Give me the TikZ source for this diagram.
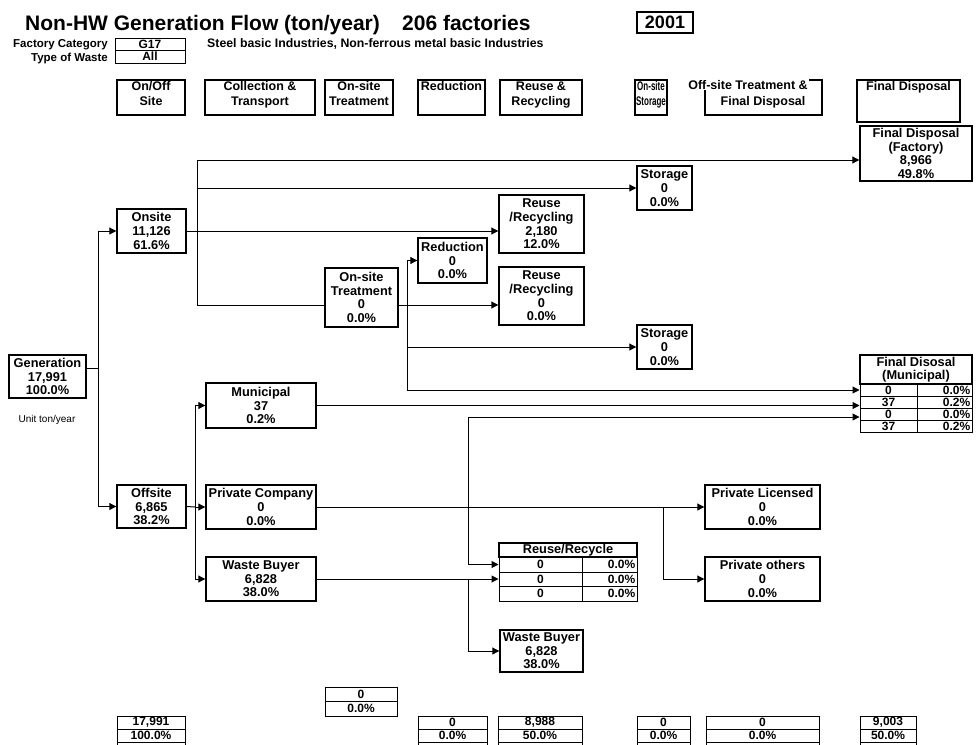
\documentclass[tikz,border=0pt]{standalone}
\usepackage{fontspec}
\setmainfont{Liberation Sans}
\usetikzlibrary{arrows.meta}
\newcommand\fs{\fontsize{12.8}{13.6}\selectfont\bfseries}
\newcommand\fsc{\fontsize{12}{12}\selectfont\bfseries}
\newcommand\bxn[6]{\node[box, minimum width={(#4-#2)*1pt}, minimum height={(#5-#3)*1pt}] (#1) at ({(#2+#4)/2},{(#3+#5)/2}) {#6};}
\newcommand\cel[6]{\node[cellbox, minimum width={(#4-#2)*1pt}, minimum height={(#5-#3)*1pt}] (#1) at ({(#2+#4)/2},{(#3+#5)/2}) {#6};}
\newcommand\trow[8]{\cel{#1l}{#2}{#5}{#3}{#6}{#7}\cel{#1r}{#3}{#5}{#4}{#6}{}\node[celltxt, anchor=east] (#1p) at ([xshift=-2pt]#1r.east) {#8};}
\newcommand\hdr[6]{\bxn{#1}{#2}{#3}{#4}{#5}{}\node[htxt, anchor=north] (#1t) at ([yshift=-2pt]#1.north) {#6};}
\begin{document}
\begin{tikzpicture}[x=1pt,y=-1pt,
  box/.style={draw, line width=1.4pt, inner sep=0pt, align=center, font=\fs},
  cellbox/.style={draw, line width=1pt, inner sep=0pt, align=center, font=\fsc},
  celltxt/.style={inner sep=0pt, font=\fsc},
  htxt/.style={inner sep=0pt, align=center, font=\fontsize{12.5}{15}\selectfont\bfseries},
  ln/.style={line width=1pt},
  arr/.style={line width=1pt, -{Triangle[length=7pt,width=7pt]}}]
\useasboundingbox (0,0) rectangle (976,744);
\clip (0,0) rectangle (976,744);
% title area
\node[anchor=base west, inner sep=0pt, font=\fontsize{21}{24}\selectfont\bfseries] (title) at (25,30) {Non-HW Generation Flow (ton/year)};
\node[anchor=base west, inner sep=0pt, font=\fontsize{21}{24}\selectfont\bfseries] (nfac) at (402,30) {206 factories};
\node[box, font=\fontsize{18}{20}\selectfont\bfseries, minimum width=56pt, minimum height=21pt] (year) at (665,22.5) {2001};
\node[anchor=base east, inner sep=0pt, font=\fontsize{11.5}{12}\selectfont\bfseries] (fclab) at (108,47) {Factory Category};
\node[anchor=base east, inner sep=0pt, font=\fontsize{11.5}{12}\selectfont\bfseries] (twlab) at (108,61) {Type of Waste};
\cel{g17}{115}{38}{185}{50}{G17}
\cel{all}{115}{50}{185}{63}{All}
\node[anchor=base west, inner sep=0pt, font=\fontsize{12.3}{13}\selectfont\bfseries] (steel) at (207,47) {Steel basic Industries, Non-ferrous metal basic Industries};
% column headers
\hdr{h1}{117}{80}{185}{115}{On/Off\\Site}
\hdr{h2}{205}{80}{315}{115}{Collection \&\\Transport}
\hdr{h3}{325}{80}{393}{115}{On-site\\Treatment}
\hdr{h4}{418}{80}{485}{115}{Reduction}
\hdr{h5}{500}{80}{582}{115}{Reuse \&\\Recycling}
\hdr{h6}{635}{80}{667}{115}{\scalebox{0.64}[1]{On-site}\\\scalebox{0.64}[1]{Storage}}
\bxn{h7}{705}{80}{822}{115}{}
\node[inner sep=1pt, fill=white, font=\fontsize{12.5}{15}\selectfont\bfseries, anchor=north] (h7a) at (748,79) {Off-site Treatment \&};
\node[inner sep=0pt, font=\fontsize{12.5}{15}\selectfont\bfseries, anchor=north] (h7b) at (763,96) {Final Disposal};
\hdr{h8}{857}{80}{960}{122}{Final Disposal}
% flow boxes
\bxn{gen}{9}{355}{86}{398}{Generation\\17,991\\100.0\%}
\node[inner sep=0pt, font=\fontsize{10}{11}\selectfont] (unit) at (47,420) {Unit ton/year};
\bxn{onsite}{117}{209}{186}{253}{Onsite\\11,126\\61.6\%}
\bxn{offsite}{117}{485}{186}{528}{Offsite\\6,865\\38.2\%}
\bxn{fdfac}{860}{126}{972}{181}{Final Disposal\\(Factory)\\8,966\\49.8\%}
\bxn{stor1}{637}{166}{692}{210}{Storage\\0\\0.0\%}
\bxn{reuse1}{499}{195}{584}{253}{Reuse\\/Recycling\\2,180\\12.0\%}
\bxn{ost}{325}{268}{398}{327}{On-site\\Treatment\\0\\0.0\%}
\bxn{red}{418}{238}{487}{283}{Reduction\\0\\0.0\%}
\bxn{reuse2}{499}{267}{584}{325}{Reuse\\/Recycling\\0\\0.0\%}
\bxn{stor2}{637}{325}{692}{369}{Storage\\0\\0.0\%}
\bxn{muni}{206}{383}{316}{428}{Municipal\\37\\0.2\%}
\bxn{privco}{206}{485}{316}{529}{Private Company\\0\\0.0\%}
\bxn{wbuy}{206}{557}{316}{601}{Waste Buyer\\6,828\\38.0\%}
\bxn{privlic}{705}{485}{820}{529}{Private Licensed\\0\\0.0\%}
\bxn{privoth}{705}{557}{820}{601}{Private others\\0\\0.0\%}
\bxn{wbuy2}{500}{630}{583}{672}{Waste Buyer\\6,828\\38.0\%}
% municipal table
\bxn{mh}{860}{355}{972}{384}{Final Disosal\\(Municipal)}
\trow{m1}{860}{917}{972}{384}{396}{0}{0.0\%}
\trow{m2}{860}{917}{972}{396}{408}{37}{0.2\%}
\trow{m3}{860}{917}{972}{408}{420}{0}{0.0\%}
\trow{m4}{860}{917}{972}{420}{432}{37}{0.2\%}
% reuse/recycle table
\bxn{rh}{499}{543}{637}{557}{Reuse/Recycle}
\trow{r1}{499}{582}{637}{557}{572}{0}{0.0\%}
\trow{r2}{499}{582}{637}{572}{586}{0}{0.0\%}
\trow{r3}{499}{582}{637}{586}{601}{0}{0.0\%}
% bottom totals
\cel{b1a}{325}{687}{397}{701}{0}
\cel{b1b}{325}{701}{397}{716}{0.0\%}
\cel{b2a}{117}{716}{185}{729}{17,991}
\cel{b2b}{117}{729}{185}{742}{100.0\%}
\cel{b2c}{117}{742}{185}{760}{}
\cel{b3a}{418}{716}{487}{729}{0}
\cel{b3b}{418}{729}{487}{742}{0.0\%}
\cel{b3c}{418}{742}{487}{760}{}
\cel{b4a}{498}{716}{582}{729}{8,988}
\cel{b4b}{498}{729}{582}{742}{50.0\%}
\cel{b4c}{498}{742}{582}{760}{}
\cel{b5a}{637}{716}{690}{729}{0}
\cel{b5b}{637}{729}{690}{742}{0.0\%}
\cel{b5c}{637}{742}{690}{760}{}
\cel{b6a}{706}{716}{819}{729}{0}
\cel{b6b}{706}{729}{819}{742}{0.0\%}
\cel{b6c}{706}{742}{819}{760}{}
\cel{b7a}{860}{716}{916}{729}{9,003}
\cel{b7b}{860}{729}{916}{742}{50.0\%}
\cel{b7c}{860}{742}{916}{760}{}
% connectors
\coordinate (jg) at (98,368);
\draw[ln] (gen.east |- jg) -- (jg);
\draw[arr] (jg) |- (onsite.west);
\draw[arr] (jg) |- (offsite.west);
\coordinate (jo) at (197,231);
\draw[ln] (onsite.east) -- (jo);
\draw[arr] (jo) |- (fdfac.west |- 0,160);
\draw[arr] (jo) |- (stor1.west);
\draw[arr] (jo) -- (reuse1.west |- jo);
\draw[ln] (jo) |- (ost.west |- 0,305);
\coordinate (jt) at (407,305);
\draw[ln] (ost.east |- jt) -- (jt);
\draw[arr] (jt) -- (reuse2.west |- jt);
\draw[arr] (jt) |- (red.west);
\draw[arr] (jt) |- (stor2.west);
\draw[arr] (jt) |- (m1l.west);
\coordinate (jf) at (195,507);
\draw[ln] (offsite.east) -- (jf);
\draw[arr] (jf) |- (muni.west);
\draw[arr] (jf) -- (privco.west);
\draw[arr] (jf) |- (wbuy.west);
\draw[arr] (muni.east) -- (m2l.west |- muni.east);
\coordinate (jx) at (468,417);
\draw[arr] (jx) -- (m3l.west |- jx);
\draw[arr] (jx) |- (r1l.west);
\coordinate (jp) at (663,507);
\draw[ln] (privco.east) -- (jp);
\draw[arr] (jp) -- (privlic.west);
\draw[arr] (jp) |- (privoth.west);
\coordinate (jw) at (468,579);
\draw[ln] (wbuy.east) -- (jw);
\draw[arr] (jw) -- (r2l.west |- jw);
\draw[arr] (jw) |- (wbuy2.west);
\end{tikzpicture}
\end{document}
